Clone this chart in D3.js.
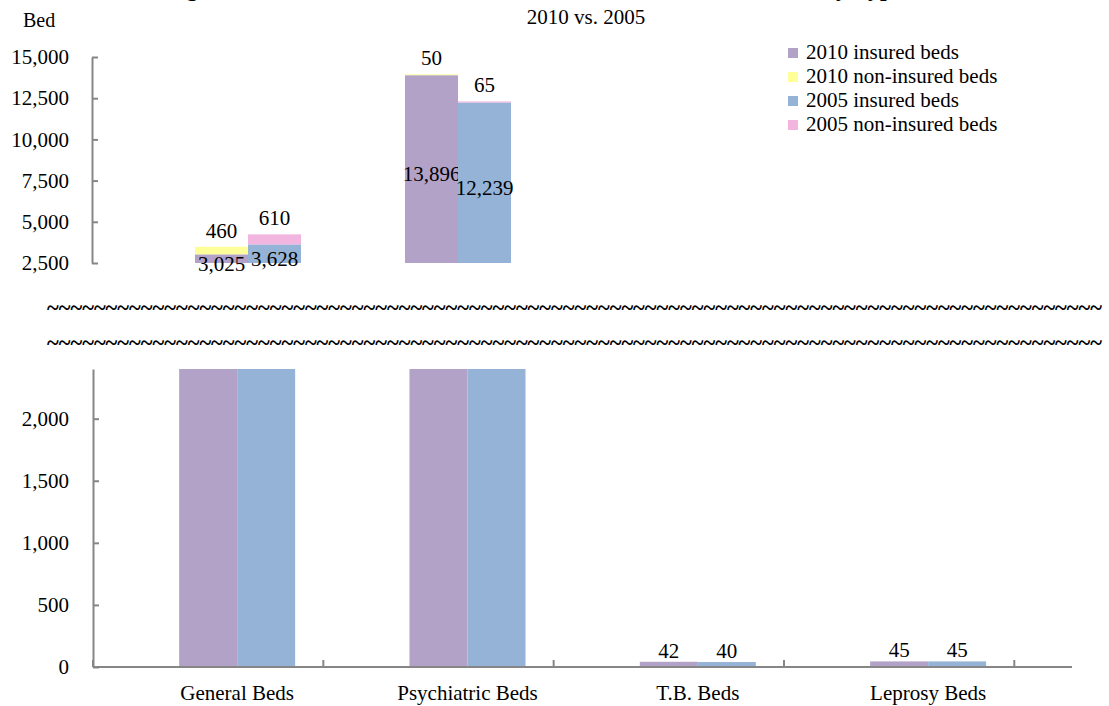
<!DOCTYPE html>
<html>
<head>
<meta charset="utf-8">
<script src="https://cdn.jsdelivr.net/npm/d3@7"></script>
<style>
  body { margin: 0; background: #fff; }
  text { font-family: "Liberation Serif", "Times New Roman", serif; fill: #000; }
</style>
</head>
<body>
<div id="chart"></div>
<script>
// Data
const categories = ["General Beds", "Psychiatric Beds", "T.B. Beds", "Leprosy Beds"];
const insured2010 = [3025, 13896, 42, 45];
const nonInsured2010 = [460, 50, 0, 0];
const insured2005 = [3628, 12239, 40, 45];
const nonInsured2005 = [610, 65, 0, 0];
const seriesNames = ["2010 insured beds", "2010 non-insured beds", "2005 insured beds", "2005 non-insured beds"];
const upperTicks = [2500, 5000, 7500, 10000, 12500, 15000];
const lowerTicks = [0, 500, 1000, 1500, 2000];

const colors = ["#B3A2C7", "#FFFF99", "#95B3D7", "#F2B5E0"];
const fmt = d3.format(",");
const fs = "21px";

const width = 1109, height = 706;
const svg = d3.select("#chart").append("svg")
    .attr("width", width)
    .attr("height", height);

// one row per category, two stacked bars (2010, 2005)
const rows = categories.map((c, i) => ({
    cat: c,
    bars: [
        { year: 0, ins: insured2010[i], non: nonInsured2010[i] },
        { year: 1, ins: insured2005[i], non: nonInsured2005[i] }
    ]
}));

// Title (mostly cut off at the top of the picture)
svg.append("text")
    .attr("x", 165)
    .attr("y", -4)
    .style("font-size", "24px")
    .style("font-weight", "bold")
    .text("Figure 3  Number of Mental Health Beds in Selected Institutions by Type");

svg.append("text")
    .attr("x", 586)
    .attr("y", 24)
    .attr("text-anchor", "middle")
    .style("font-size", "21px")
    .text("2010 vs. 2005");

svg.append("text")
    .attr("x", 23)
    .attr("y", 27)
    .style("font-size", "20px")
    .text("Bed");

// ---------- upper panel (2,500 - 15,000) ----------
const xTop = d3.scaleBand().domain(categories).range([143, 983]);
const yTop = d3.scaleLinear().domain([2500, 15000]).range([263, 57]);
const barTop = 53;

svg.append("g")
    .attr("transform", "translate(92,0)")
    .call(d3.axisLeft(yTop).tickValues(upperTicks).tickFormat(fmt)
        .tickSizeInner(-6).tickSizeOuter(0).tickPadding(23));

const upperG = svg.append("g");
rows.forEach(r => {
    r.bars.forEach(b => {
        if (b.ins <= 2500) return;
        const x0 = xTop(r.cat) + xTop.bandwidth() / 2 - barTop + b.year * barTop;
        const yIns = yTop(b.ins), yNon = yTop(b.ins + b.non);
        upperG.append("rect")
            .attr("x", x0).attr("width", barTop)
            .attr("y", yIns).attr("height", yTop(2500) - yIns)
            .attr("fill", colors[b.year * 2]);
        upperG.append("rect")
            .attr("x", x0).attr("width", barTop)
            .attr("y", yNon).attr("height", yIns - yNon)
            .attr("fill", colors[b.year * 2 + 1]);
        // value labels
        upperG.append("text")
            .attr("x", x0 + barTop / 2)
            .attr("y", (yIns + yTop(2500)) / 2 + 5)
            .attr("dy", "0.35em")
            .attr("text-anchor", "middle")
            .style("font-size", fs)
            .text(fmt(b.ins));
        upperG.append("text")
            .attr("x", x0 + barTop / 2)
            .attr("y", yNon - 9)
            .attr("text-anchor", "middle")
            .style("font-size", fs)
            .text(fmt(b.non));
    });
});

// ---------- break marks ----------
[308, 343].forEach(y => {
    svg.append("text")
        .attr("x", 47)
        .attr("y", y + 7)
        .attr("textLength", 1055)
        .attr("lengthAdjust", "spacingAndGlyphs")
        .style("font-size", "24px")
        .style("font-weight", "bold")
        .text("~".repeat(90));
});

// ---------- lower panel (0 - 2,400) ----------
const xBot = d3.scaleBand().domain(categories).range([122, 1043.3]);
const yBot = d3.scaleLinear().domain([0, 2400]).range([667, 369]).clamp(true);
const barBot = 58;

svg.append("g")
    .attr("transform", "translate(93,0)")
    .call(d3.axisLeft(yBot).tickValues(lowerTicks).tickFormat(fmt)
        .tickSizeInner(-6).tickSizeOuter(0).tickPadding(24));

const lowerG = svg.append("g");
rows.forEach(r => {
    r.bars.forEach(b => {
        const x0 = xBot(r.cat) + xBot.bandwidth() / 2 - barBot + b.year * barBot;
        const yIns = yBot(b.ins), yNon = yBot(b.ins + b.non);
        lowerG.append("rect")
            .attr("x", x0).attr("width", barBot)
            .attr("y", yIns).attr("height", yBot(0) - yIns)
            .attr("fill", colors[b.year * 2]);
        if (yIns - yNon > 0) {
            lowerG.append("rect")
                .attr("x", x0).attr("width", barBot)
                .attr("y", yNon).attr("height", yIns - yNon)
                .attr("fill", colors[b.year * 2 + 1]);
        }
        if (b.ins < 2400) {
            lowerG.append("text")
                .attr("x", x0 + barBot / 2)
                .attr("y", yIns - 4)
                .attr("text-anchor", "middle")
                .style("font-size", fs)
                .text(fmt(b.ins));
        }
    });
});

// x axis line with tick marks between categories
const xAxis = svg.append("g").attr("class", "x-axis");
xAxis.append("line")
    .attr("x1", 93).attr("x2", 1072)
    .attr("y1", yBot(0)).attr("y2", yBot(0))
    .attr("stroke", "#868686").attr("stroke-width", 2);
const tickXs = categories.map(c => xBot(c) - barBot / 2)
    .concat([xBot(categories[categories.length - 1]) + xBot.step() - barBot / 2]);
xAxis.selectAll(".xtick")
    .data(tickXs)
    .enter().append("line")
    .attr("x1", d => d).attr("x2", d => d)
    .attr("y1", yBot(0)).attr("y2", yBot(0) - 7)
    .attr("stroke", "#868686").attr("stroke-width", 2);
xAxis.selectAll(".xlabel")
    .data(categories)
    .enter().append("text")
    .attr("x", d => xBot(d) + xBot.bandwidth() / 2)
    .attr("y", 700)
    .attr("text-anchor", "middle")
    .style("font-size", fs)
    .text(d => d);

// axis styling
svg.selectAll(".domain, .tick line")
    .attr("stroke", "#868686")
    .attr("stroke-width", 2);
svg.selectAll(".tick text")
    .style("font-size", fs)
    .style("font-family", "Liberation Serif, Times New Roman, serif");

// ---------- legend ----------
const legend = svg.append("g").attr("transform", "translate(788,53)");
seriesNames.forEach((name, i) => {
    const g = legend.append("g").attr("transform", "translate(0," + (i * 24) + ")");
    g.append("rect")
        .attr("x", 0).attr("y", -5)
        .attr("width", 10).attr("height", 10)
        .attr("fill", colors[i]);
    g.append("text")
        .attr("x", 18)
        .attr("y", 6)
        .style("font-size", fs)
        .text(name);
});
</script>
</body>
</html>
